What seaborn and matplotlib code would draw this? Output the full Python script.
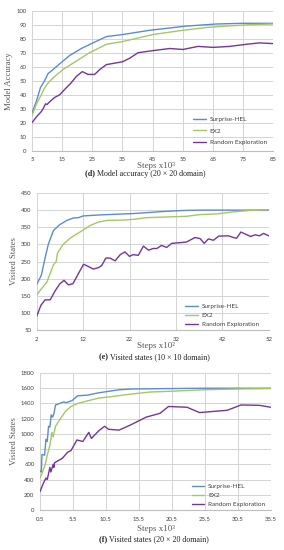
import numpy as np
import pandas as pd
import seaborn as sns
import matplotlib.pyplot as plt

# ---- (d) model accuracy, 20x20 domain ------------------------------------
acc_hel_x = [5, 6.4, 7.8, 9.2, 10.3, 12, 14.7, 17.5, 21.4, 25.2, 29.7, 35.2, 44, 56.2, 66.2, 75, 85]
acc_hel_y = [27, 35, 45, 50, 55, 58, 63, 68, 73, 77, 81.5, 83, 86, 89, 90.5, 91, 91]
acc_ex2_x = [5, 6.4, 8.1, 9.2, 10.6, 12.5, 15.3, 19.7, 24.1, 29.7, 35.2, 45.2, 55.1, 62.9, 69.5, 77.2, 85]
acc_ex2_y = [25, 33, 40, 45, 49, 53, 58, 64, 70, 76, 78, 83, 86, 88, 89, 90, 90.5]
acc_rnd_x = [5, 6.4, 8.1, 8.7, 9.5, 10, 10.9, 12.5, 14.2, 16.4, 17.8, 19.7, 21.7, 23.6, 25.8, 27.5,
             29.7, 35, 37.4, 40.2, 45.2, 50.7, 55.1, 60.1, 65.1, 70.6, 76.1, 80.5, 85]
acc_rnd_y = [20, 24, 28, 30, 33.5, 33, 35, 38, 40, 45, 48, 53, 56.5, 54.5, 54.5, 58,
             61.5, 63.5, 66, 70, 71.5, 73, 72.3, 74.5, 73.8, 74.5, 76, 77, 76.5]

# ---- (e) visited states, 10x10 domain ------------------------------------
vs10_hel_x = [2, 3, 3.8, 4.5, 5.6, 6.9, 8.5, 9.9, 11, 12, 15.6, 22.8, 29.3, 33.6, 37.2, 45, 52]
vs10_hel_y = [183, 210, 260, 300, 340, 357, 370, 377, 378, 383, 386, 390, 396, 399, 400, 400, 400]
vs10_ex2_x = [2, 2.7, 4.2, 5.6, 6.2, 6.5, 7.7, 9.2, 10.6, 12.4, 13.5, 15.3, 17.1, 20.7, 22.8,
              25.7, 30, 34.3, 37.2, 40.8, 44.4, 48, 52]
vs10_ex2_y = [152, 165, 190, 240, 250, 275, 300, 318, 330, 345, 355, 365, 370, 371, 373,
              378, 380, 382, 387, 389, 395, 399, 401]
vs10_rnd_x = [2, 2.9, 3.8, 4.9, 6, 7, 7.9, 8.8, 9.8, 11, 12.1, 12.9, 14.2, 15.3, 16, 16.9, 17.8,
              18.9, 20, 21, 22, 22.8, 23.9, 25, 26.1, 27.1, 27.9, 28.9, 30, 31.1, 32.9, 34.3,
              35, 36.1, 37.2, 38.1, 39, 40.1, 41.2, 43.3, 44.4, 45.1, 46, 47.3, 48.1, 49.1,
              50, 50.9, 52]
vs10_rnd_y = [90, 122, 138, 138, 165, 185, 195, 182, 185, 215, 242, 237, 228, 232, 238, 260, 260,
              252, 270, 278, 265, 270, 268, 295, 283, 288, 288, 297, 291, 303, 305, 307,
              312, 320, 317, 303, 316, 312, 324, 325, 320, 318, 336, 328, 323, 328,
              325, 332, 325]

# ---- (f) visited states, 20x20 domain ------------------------------------
vs20_hel_x = [0.5, 0.7, 0.8, 1.2, 1.4, 1.6, 1.8, 2.0, 2.2, 2.4, 2.6, 2.85, 4.1, 4.5, 5.4, 6.2,
              7.8, 9.4, 11, 12.5, 14.5, 20, 25.5, 35.5]
vs20_hel_y = [510, 500, 730, 720, 930, 900, 1100, 1090, 1250, 1220, 1260, 1380, 1420, 1410, 1440, 1500,
              1510, 1540, 1560, 1580, 1590, 1595, 1600, 1600]
vs20_ex2_x = [0.5, 0.8, 1.3, 1.6, 2.0, 2.3, 2.5, 2.85, 3.6, 4.4, 5.2, 6.2, 8, 9.4, 11.4, 14,
              17.2, 20.3, 25.5, 30.7, 35.5]
vs20_ex2_y = [420, 480, 600, 720, 850, 1020, 960, 1100, 1200, 1300, 1360, 1400, 1440, 1470, 1490, 1520,
              1550, 1560, 1580, 1590, 1595]
vs20_rnd_x = [0.5, 0.9, 1.4, 1.6, 2.0, 2.15, 2.5, 2.6, 2.7, 3.9, 4.7, 5.2, 6.1, 7, 7.9, 8.3,
              9.4, 10.3, 10.9, 12.5, 14.3, 16.6, 18.7, 20, 22.8, 24.7, 28.9, 31, 33.8, 35.5]
vs20_rnd_y = [240, 330, 420, 400, 560, 500, 600, 560, 620, 680, 760, 780, 920, 900, 1020, 940,
              1040, 1100, 1060, 1050, 1120, 1220, 1270, 1360, 1350, 1280, 1310, 1380, 1375, 1350]

methods = ["Surprise-HEL", "EX2", "Random Exploration"]
colors = ["#5B8DC9", "#A4C766", "#7335A0"]


def make_df(series):
    frames = []
    for name, (xs, ys) in zip(methods, series):
        frames.append(pd.DataFrame({"step": xs, "value": ys, "method": name}))
    return pd.concat(frames, ignore_index=True)


W, H = 284, 550


def px_box(left, top, right, bottom):
    return [left / W, 1 - bottom / H, (right - left) / W, (bottom - top) / H]


sns.set_theme(style="whitegrid")
plt.rcParams["font.family"] = ["Lato", "DejaVu Sans"]

fig = plt.figure(figsize=(W / 100, H / 100), dpi=100)

panels = [
    dict(box=(32, 10.7, 273, 150.7), data=[(acc_hel_x, acc_hel_y), (acc_ex2_x, acc_ex2_y), (acc_rnd_x, acc_rnd_y)],
         xlim=(5, 85), xticks=np.arange(5, 86, 10), ylim=(0, 100), yticks=np.arange(0, 101, 10),
         ylabel="Model Accuracy", xlabel="Steps x10³", xlabel_y=165.8, xlabel_x=156,
         cap_y=173.5, cap_x=145, cap_b="(d)",
         cap="Model accuracy (20 × 20 domain)", leg=(0.668, 0.042), spacing=0.9, xfmt="{:.0f}"),
    dict(box=(36.7, 193, 268.7, 330), data=[(vs10_hel_x, vs10_hel_y), (vs10_ex2_x, vs10_ex2_y), (vs10_rnd_x, vs10_rnd_y)],
         xlim=(2, 52), xticks=np.arange(2, 53, 10), ylim=(50, 450), yticks=np.arange(50, 451, 50),
         ylabel="Visited States", xlabel="Steps x10²", xlabel_y=346.5, xlabel_x=156,
         cap_y=357, cap_x=154, cap_b="(e)",
         cap="Visited states (10 × 10 domain)", leg=(0.639, 0.022), spacing=0.56, xfmt="{:.0f}"),
    dict(box=(40, 373, 270.7, 510), data=[(vs20_hel_x, vs20_hel_y), (vs20_ex2_x, vs20_ex2_y), (vs20_rnd_x, vs20_rnd_y)],
         xlim=(0.5, 35.5), xticks=np.arange(0.5, 35.6, 5), ylim=(0, 1800), yticks=np.arange(0, 1801, 200),
         ylabel="Visited States", xlabel="Steps x10³", xlabel_y=529, xlabel_x=156,
         cap_y=539, cap_x=154, cap_b="(f)",
         cap="Visited states (20 × 20 domain)", leg=(0.657, 0.022), spacing=0.56, xfmt="{:.1f}"),
]

text_c = "#404040"

for p in panels:
    ax = fig.add_axes(px_box(*p["box"]))
    df = make_df(p["data"])
    sns.lineplot(data=df, x="step", y="value", hue="method", palette=colors,
                 estimator=None, sort=False, linewidth=1.0, ax=ax)
    ax.set_xlim(*p["xlim"])
    ax.set_ylim(*p["ylim"])
    ax.set_xticks(p["xticks"])
    ax.set_xticklabels([p["xfmt"].format(v) for v in p["xticks"]])
    ax.set_yticks(p["yticks"])
    ax.grid(True, which="major", axis="both", color="#D4D4D4", linewidth=0.7)
    ax.set_axisbelow(True)
    for s in ["top", "right", "left"]:
        ax.spines[s].set_visible(False)
    ax.spines["bottom"].set_color("#BDBDBD")
    ax.spines["bottom"].set_linewidth(0.8)
    ax.tick_params(length=0, labelsize=4.3, labelcolor=text_c)
    ax.tick_params(axis="x", pad=4.8)
    ax.tick_params(axis="y", pad=4)
    ax.set_xlabel("")
    ax.set_ylabel(p["ylabel"], family="Liberation Serif", fontsize=6.2, color="#595959", labelpad=2)
    leg = ax.legend(loc="lower left", bbox_to_anchor=p["leg"], frameon=False, fontsize=4.6,
                    borderpad=0, borderaxespad=0, handlelength=2.0, handletextpad=0.6,
                    labelspacing=p["spacing"])
    for t in leg.get_texts():
        t.set_color(text_c)
    for h in leg.get_lines():
        h.set_linewidth(1.0)

    fig.text(p["xlabel_x"] / W, 1 - p["xlabel_y"] / H, p["xlabel"], ha="center", va="center",
             family="Liberation Serif", fontsize=6.5, color="#595959")

    # caption with bold panel letter
    cap_y = 1 - p["cap_y"] / H
    tb = fig.text(0, cap_y, p["cap_b"] + " ", ha="left", va="center",
                  family="Liberation Serif", fontsize=5.8, weight="bold", color="#222222")
    tr = fig.text(0, cap_y, p["cap"], ha="left", va="center",
                  family="Liberation Serif", fontsize=5.8, color="#222222")
    r = fig.canvas.get_renderer()
    wb = tb.get_window_extent(r).width / W
    wr = tr.get_window_extent(r).width / W
    x0 = p["cap_x"] / W - (wb + wr) / 2
    tb.set_x(x0)
    tr.set_x(x0 + wb)

fig.savefig("out.png", dpi=100)
